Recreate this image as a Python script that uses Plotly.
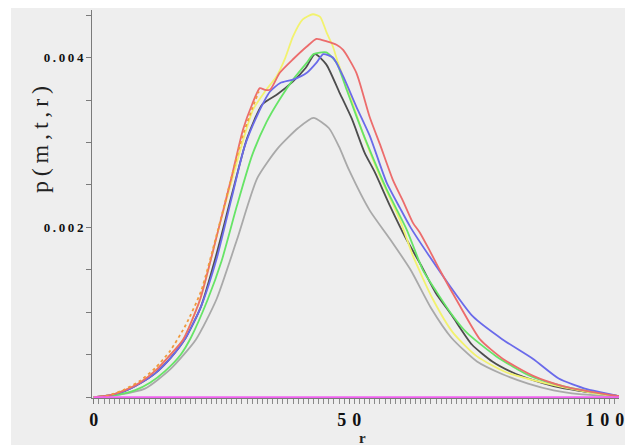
import plotly.graph_objects as go

# values of p(m,t,r) are given in units of 1e-3
SCALE = 1e-3

gray_r = [0, 5, 10, 15, 20, 24, 28, 32, 36, 40, 43, 46, 48, 50, 54, 58, 62, 66, 70, 75, 80, 85, 90, 95, 100, 103]
gray_p = [0, 0.03, 0.1, 0.33, 0.68, 1.15, 1.85, 2.58, 2.93, 3.17, 3.29, 3.17, 2.95, 2.67, 2.2, 1.86, 1.5, 1.05, 0.7, 0.42, 0.27, 0.16, 0.08, 0.035, 0.015, 0.005]

black_r = [0, 3, 6, 9, 12, 15, 18, 21, 24, 27, 30, 33, 36, 39, 41.5, 43.3, 45.5, 48, 50.5, 53, 55, 58, 61, 64, 67, 70, 74, 78, 82, 86, 90, 95, 100, 103]
black_p = [0, 0.02, 0.07, 0.16, 0.28, 0.46, 0.7, 1.07, 1.68, 2.38, 3.05, 3.45, 3.57, 3.72, 3.88, 4.04, 3.92, 3.6, 3.28, 2.88, 2.65, 2.25, 1.88, 1.56, 1.22, 0.97, 0.62, 0.42, 0.29, 0.2, 0.13, 0.075, 0.035, 0.01]

green_r = [0, 4, 8, 11, 14, 17, 19, 22.3, 25, 28, 31, 33.8, 36.4, 39, 41.7, 43, 45.5, 47.5, 49.5, 51.4, 53.4, 57.3, 61.2, 64.4, 67.1, 70, 73, 78.8, 85.4, 91.8, 97.7, 103]
green_p = [0, 0.02, 0.08, 0.17, 0.31, 0.5, 0.7, 1.15, 1.6, 2.25, 2.85, 3.24, 3.51, 3.74, 3.94, 4.04, 4.06, 3.94, 3.62, 3.31, 3.0, 2.45, 1.98, 1.5, 1.24, 0.98, 0.76, 0.48, 0.25, 0.13, 0.06, 0.01]

blue_r = [0, 3, 6, 9, 12, 15, 18, 21, 24, 27, 29.5, 32, 34.5, 36.5, 39, 41.7, 43.6, 44.9, 46.8, 48.8, 51.4, 54, 57.3, 60, 62, 65.8, 69.7, 74.2, 80, 86, 91, 96.5, 101, 103]
blue_p = [0, 0.02, 0.07, 0.16, 0.28, 0.46, 0.7, 1.07, 1.62, 2.35, 2.95, 3.32, 3.6, 3.7, 3.74, 3.82, 3.94, 4.04, 4.0, 3.78, 3.42, 3.08, 2.53, 2.22, 2.0, 1.65, 1.31, 0.95, 0.68, 0.45, 0.22, 0.094, 0.035, 0.01]

red_r = [0, 3, 6, 9, 12.4, 15, 17.5, 20.8, 24.5, 27, 29.2, 31, 32.5, 33.5, 34.5, 36.4, 39, 41.7, 43.6, 45.6, 47.5, 48.8, 51.4, 54, 56, 58.6, 60.6, 62.5, 63.8, 65.8, 67.7, 71.7, 75.6, 80.1, 86, 91.8, 97.7, 103]
red_p = [0, 0.02, 0.08, 0.17, 0.33, 0.5, 0.68, 1.15, 2.0, 2.6, 3.15, 3.45, 3.64, 3.62, 3.62, 3.82, 3.98, 4.13, 4.22, 4.19, 4.15, 4.09, 3.82, 3.3, 2.98, 2.55, 2.3, 2.05, 1.94, 1.72, 1.5, 1.07, 0.68, 0.45, 0.25, 0.13, 0.06, 0.01]

yellow_r = [0, 3, 6, 9, 12.4, 15, 17.5, 20.8, 24.5, 27, 29, 31.2, 33.5, 35.8, 37.5, 39, 40.9, 42.9, 44.3, 45.6, 46.8, 47.8, 50, 53, 56, 59.9, 62.5, 66.4, 70.3, 75, 80.8, 87.3, 93.8, 99, 103]
yellow_p = [0, 0.02, 0.08, 0.17, 0.33, 0.5, 0.68, 1.15, 2.0, 2.55, 2.98, 3.39, 3.6, 3.78, 4.0, 4.25, 4.45, 4.51, 4.48, 4.29, 4.13, 3.94, 3.58, 3.05, 2.6, 2.09, 1.66, 1.15, 0.76, 0.48, 0.29, 0.18, 0.094, 0.035, 0.01]

orange_r = [0, 3, 6, 9, 12, 15, 18, 21, 24, 27, 29, 31, 32.3]
orange_p = [0, 0.02, 0.09, 0.19, 0.34, 0.55, 0.85, 1.25, 1.9, 2.6, 3.05, 3.4, 3.6]

magenta_r = [0, 103]
magenta_p = [0, 0]

series = [
    ("gray", gray_r, gray_p, "#a9a9a9", "solid"),
    ("black", black_r, black_p, "#4d4d4d", "solid"),
    ("yellow", yellow_r, yellow_p, "#f2f26e", "solid"),
    ("green", green_r, green_p, "#66e466", "solid"),
    ("blue", blue_r, blue_p, "#6a6aea", "solid"),
    ("red", red_r, red_p, "#ec6c6c", "solid"),
    ("orange", orange_r, orange_p, "#f09a3c", "dot"),
    ("magenta", magenta_r, magenta_p, "#f060f0", "solid"),
]

x_tickvals = [0, 50, 100]
x_ticktext = ["0", "5\u20040", "1\u20040\u20040"]
y_tickvals = [0.002, 0.004]
y_ticktext = ["0\u2009.\u20090\u20090\u20092", "0\u2009.\u20090\u20090\u20094"]

fig = go.Figure()
for name, xs, ys, color, dash in series:
    fig.add_trace(go.Scatter(
        x=xs, y=[v * SCALE for v in ys], mode="lines", name=name,
        line=dict(color=color, width=1.8, dash=dash, shape="spline", smoothing=0.6),
        showlegend=False,
    ))

# the page body adds an 8px offset; the figure fills the rest of the window
OFF = 8
W, H = 637 - OFF, 445 - OFF
# plot area in window pixels: left 92, right 619, top 10, bottom 398
ml, mr, mt, mb = 92 - OFF, 637 - 619, 10 - OFF, 445 - 398
pw, ph = W - ml - mr, H - mt - mb

def px_to_paper(px, py):
    fx, fy = px - OFF, py - OFF
    return (fx - ml) / pw, (H - mb - fy) / ph

x0, y0 = px_to_paper(11, 460)
x1, y1 = px_to_paper(625, 7)

serif = "Liberation Serif, Times New Roman, serif"

fig.update_layout(
    width=W, height=H,
    margin=dict(l=ml, r=mr, t=mt, b=mb),
    paper_bgcolor="white",
    plot_bgcolor="#eeeeee",
    shapes=[dict(type="rect", xref="paper", yref="paper", x0=x0, y0=y0, x1=x1, y1=y1,
                 fillcolor="#eeeeee", line=dict(width=0), layer="below")],
    xaxis=dict(
        range=[-0.35, 102.8], showgrid=False, zeroline=False,
        showline=True, linecolor="#7a7a7a", linewidth=1,
        ticks="outside", ticklen=5, tickcolor="#7a7a7a",
        tickvals=x_tickvals, ticktext=x_ticktext,
        tickfont=dict(family=serif, size=18, color="#111111", weight="bold"),
        minor=dict(dtick=1, ticks="outside", ticklen=5, tickcolor="#8a8a8a", showgrid=False),
    ),
    yaxis=dict(
        range=[-0.00001, 0.00456], showgrid=False, zeroline=False,
        showline=True, linecolor="#7a7a7a", linewidth=1,
        ticks="outside", ticklen=5, tickcolor="#7a7a7a",
        tickvals=y_tickvals, ticktext=y_ticktext,
        tickfont=dict(family=serif, size=13, color="#111111", weight="bold"),
        minor=dict(dtick=0.0005, ticks="outside", ticklen=5, tickcolor="#7a7a7a", showgrid=False),
    ),
    annotations=[
        dict(text="p\u2009(\u2009m\u2009,\u2009t\u2009,\u2009r\u2009)", xref="paper", yref="paper",
             x=px_to_paper(40, 140)[0], y=px_to_paper(40, 140)[1], textangle=-90,
             showarrow=False, xanchor="center", yanchor="middle",
             font=dict(family=serif, size=24, color="#222222")),
        dict(text="r", xref="paper", yref="paper",
             x=px_to_paper(362, 438)[0], y=px_to_paper(362, 438)[1],
             showarrow=False, xanchor="center", yanchor="middle",
             font=dict(family=serif, size=15, color="#222222", weight="bold")),
    ],
)

fig.write_html("out.html")
